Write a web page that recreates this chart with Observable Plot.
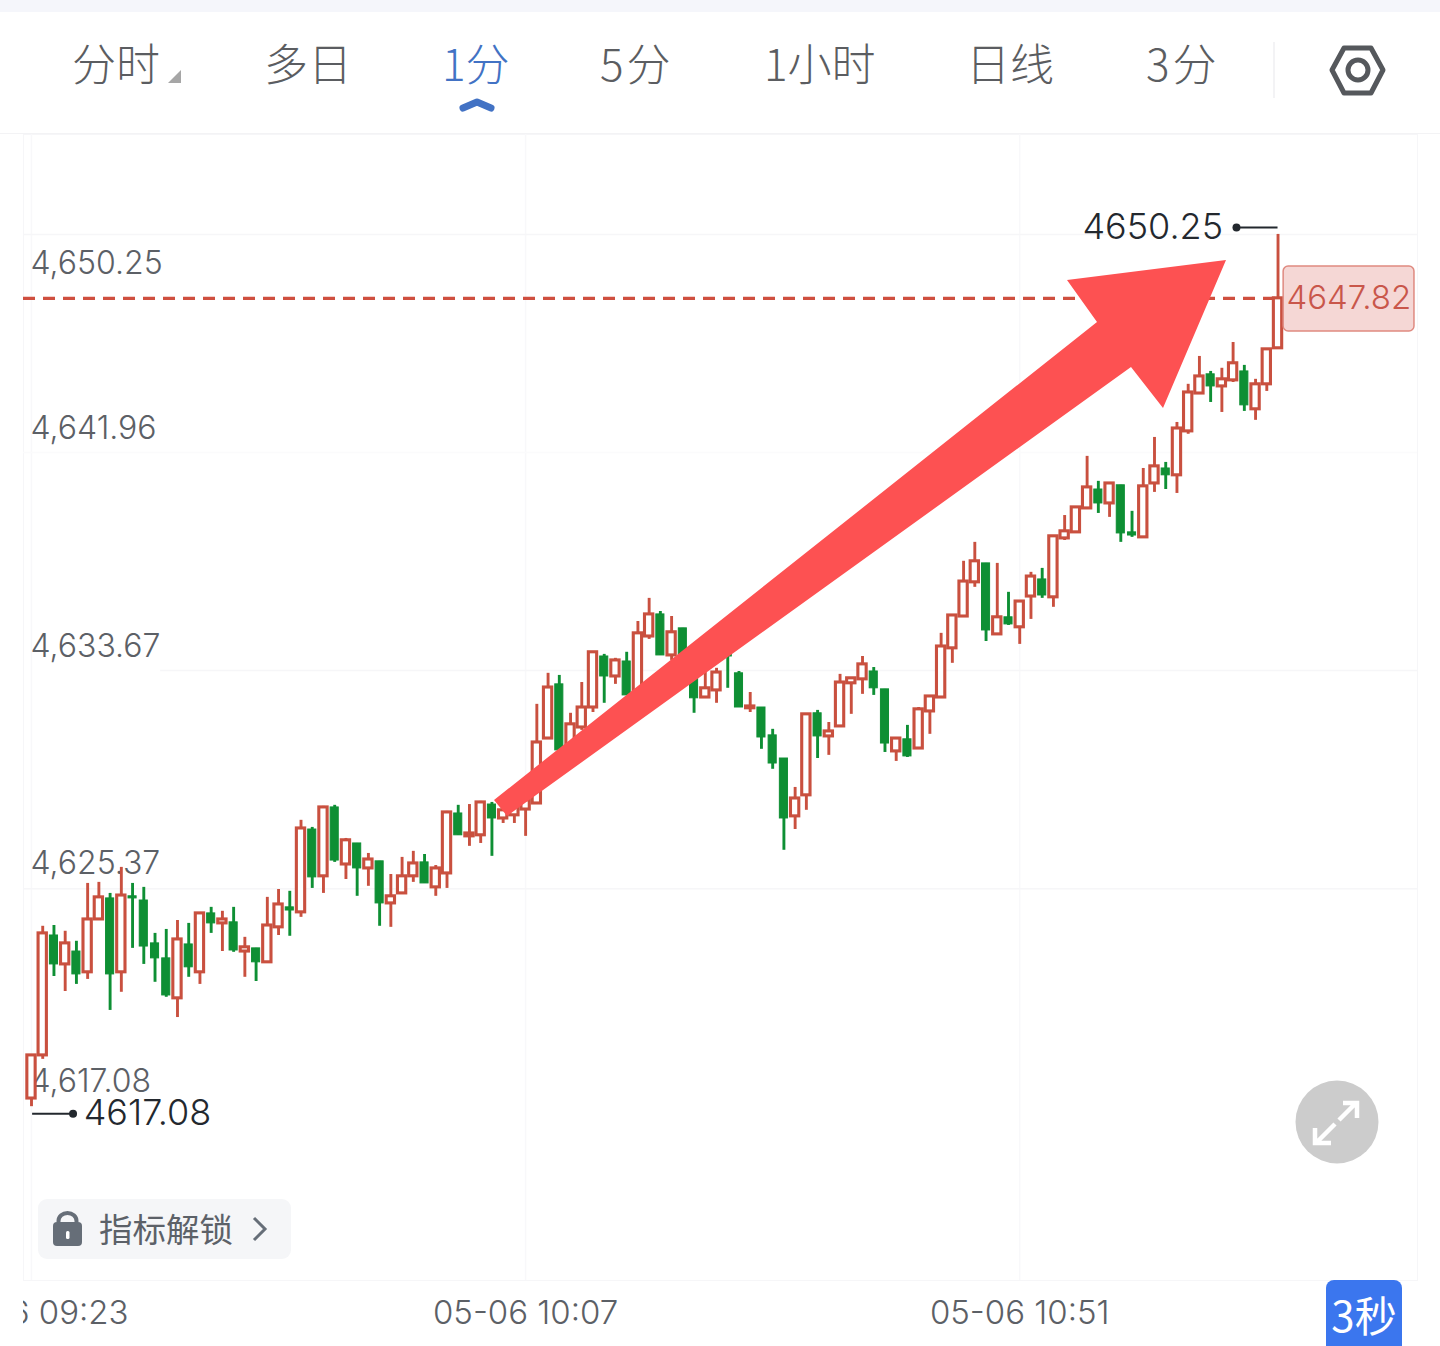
<!DOCTYPE html>
<html lang="zh">
<head>
<meta charset="utf-8">
<script src="https://cdn.jsdelivr.net/npm/d3@7"></script>
<script src="https://cdn.jsdelivr.net/npm/@observablehq/plot@0.6"></script>
<style>
html,body{margin:0;padding:0;background:#fff}
#page{position:relative;width:1440px;height:1346px;overflow:hidden;background:#fff;font-family:"Noto Sans CJK SC","Noto Sans",sans-serif}
#band{position:absolute;left:0;top:0;width:1440px;height:12px;background:#f5f6fb}
#head{position:absolute;left:0;top:12px;width:1440px;height:121px;border-bottom:1px solid #f3f3f5;box-sizing:content-box}
.tab{position:absolute;top:19px;font-size:44px;line-height:62px;color:#5b5d61;font-weight:300;white-space:nowrap}
.tab.on{color:#4272c4}
#chart{position:absolute;left:0;top:134px}
#mask{position:absolute;left:0;top:1281px;width:23px;height:65px;background:#fff}
#deco{position:absolute;left:0;top:0;pointer-events:none}
#lock{position:absolute;left:38px;top:1199px;width:253px;height:60px;border-radius:9px;background:#f5f6f8}
#lockt{position:absolute;left:61px;top:5px;font-size:33.500px;line-height:48px;color:#5c6168;white-space:nowrap}
#sec{position:absolute;left:1326px;top:1280px;width:76px;height:66px;background:#3b76ee;border-radius:8px 8px 0 0;color:#fff;font-size:42px;line-height:68px;text-align:center;white-space:nowrap}
</style>
</head>
<body>
<div id="page">
  <div id="band"></div>
  <div id="head"></div>
  <div id="chart"></div>
  <div id="mask"></div>
  <div id="lock"><div id="lockt">指标解锁</div></div>
  <div id="sec">3秒</div>
  <svg id="deco" width="1440" height="1346" viewBox="0 0 1440 1346">
    <path d="M168 83 L181 70 L181 83 Z" fill="#a6a6a6"/>
    <path d="M463 108 L477 102 L491 108" fill="none" stroke="#4272c4" stroke-width="7" stroke-linecap="round" stroke-linejoin="round"/>
    <line x1="1274" y1="42" x2="1274" y2="98" stroke="#f3f3f5" stroke-width="2"/>
    <path d="M1344 48 L1371 48 L1383 70 L1371 93 L1344 93 L1332 70 Z" fill="none" stroke="#55585c" stroke-width="5" stroke-linejoin="round"/>
    <circle cx="1358" cy="70" r="10" fill="none" stroke="#55585c" stroke-width="5"/>
    <path d="M53 1226 Q53 1222 57 1222 L78 1222 Q82 1222 82 1226 L82 1242 Q82 1246 78 1246 L57 1246 Q53 1246 53 1242 Z" fill="#666e78"/>
    <path d="M58.500 1222 L58.500 1221 A9 8 0 0 1 76.500 1221 L76.500 1222" fill="none" stroke="#666e78" stroke-width="4"/>
    <rect x="66" y="1231" width="3.500" height="8" rx="1.500" fill="#fff"/>
    <path d="M254 1218 L265 1229 L254 1240" fill="none" stroke="#666e78" stroke-width="3"/>
    <circle cx="1337" cy="1122" r="41.500" fill="#cccccc"/>
    <path d="M1339 1120 L1356 1103 M1343 1103 L1357 1103 L1357 1118 M1335 1124 L1316 1143 M1315 1128 L1315 1143 L1331 1143" fill="none" stroke="#fff" stroke-width="4.500"/>
    <path d="M1226 260 L1067 280 L1097 322 L494 800 L507 816 L1131 367 L1163 408 Z" fill="#fd5152"/>
  </svg>
</div>
<script>
const tabNames = ["分时","多日","1分","5分","1小时","日线","3分"];
const tabLefts = [72,264,442,600,764,966,1146];
const tabSpacing = [0,0,0,3,0,0,3];
const activeTab = "1分";

const opens = [4617.39,4619.03,4623.59,4622.49,4622.98,4622.19,4624.20,4625.00,4622.19,4625.08,4624.92,4623.29,4622.72,4621.20,4623.25,4622.19,4624.43,4624.05,4624.09,4622.98,4623.10,4622.57,4623.90,4624.66,4624.47,4627.62,4625.84,4628.46,4626.29,4627.09,4626.14,4626.41,4624.81,4625.19,4625.84,4626.37,4625.42,4625.95,4628.23,4627.36,4627.40,4628.57,4628.04,4628.16,4628.38,4628.61,4631.08,4633.14,4630.82,4631.50,4632.26,4634.20,4633.44,4634.01,4632.83,4634.96,4635.80,4634.24,4635.27,4633.86,4632.64,4632.91,4634.51,4633.56,4632.23,4632.26,4631.20,4630.32,4628.12,4628.92,4632.04,4631.16,4631.54,4633.18,4633.33,4633.63,4632.95,4630.59,4631.05,4630.70,4632.11,4632.64,4634.51,4635.72,4637.02,4637.74,4635.04,4635.69,4635.31,4636.48,4637.13,4636.45,4638.69,4638.92,4639.83,4640.55,4640.02,4640.71,4638.92,4638.73,4640.78,4641.35,4641.09,4642.76,4644.20,4644.93,4644.47,4644.70,4645.04,4643.60,4644.55,4645.92];
const highs = [4619.03,4623.94,4623.97,4623.75,4623.37,4625.57,4625.61,4625.19,4626.18,4625.57,4625.42,4623.67,4623.82,4624.16,4624.05,4624.43,4624.66,4624.51,4624.66,4623.52,4623.10,4625.04,4625.34,4625.27,4627.97,4627.70,4628.50,4628.54,4627.28,4627.09,4626.71,4626.41,4625.91,4626.56,4626.79,4626.67,4626.25,4628.31,4628.54,4628.57,4628.69,4628.65,4628.73,4628.60,4628.80,4632.38,4633.56,4633.48,4632.04,4633.21,4634.36,4634.28,4634.13,4634.36,4635.53,4636.41,4635.91,4635.72,4635.27,4634.05,4633.59,4633.75,4634.81,4633.63,4632.83,4632.26,4631.43,4630.32,4629.22,4632.00,4632.15,4631.69,4633.52,4633.37,4634.20,4633.78,4632.95,4631.12,4631.58,4632.26,4632.68,4635.08,4635.76,4637.82,4638.54,4637.74,4637.74,4636.64,4636.29,4637.40,4637.55,4638.80,4639.56,4639.87,4641.81,4640.86,4640.78,4640.71,4639.72,4641.35,4642.53,4641.58,4643.10,4644.55,4645.61,4645.04,4645.16,4646.14,4645.27,4644.74,4645.88,4650.25];
const lows = [4617.08,4618.88,4622.03,4621.46,4621.73,4621.92,4624.20,4620.74,4621.43,4623.10,4622.49,4621.81,4621.24,4620.47,4622.00,4621.73,4623.67,4622.98,4622.95,4622.00,4621.84,4622.57,4623.59,4623.56,4624.28,4625.38,4625.19,4626.37,4625.72,4625.08,4625.46,4623.94,4623.90,4625.19,4625.61,4625.57,4625.08,4625.38,4627.40,4626.98,4627.09,4626.60,4627.85,4627.85,4627.36,4628.61,4631.08,4630.55,4630.70,4631.39,4632.07,4632.42,4633.14,4632.72,4632.83,4634.85,4634.24,4634.05,4633.86,4632.04,4632.64,4632.42,4632.99,4632.26,4632.07,4630.67,4629.91,4626.83,4627.62,4628.35,4630.32,4630.44,4631.54,4632.00,4632.76,4632.72,4630.55,4630.21,4630.36,4630.67,4631.24,4632.61,4633.94,4635.72,4636.83,4634.77,4635.04,4635.38,4634.66,4635.61,4636.41,4636.07,4638.61,4638.92,4639.83,4639.64,4639.49,4638.54,4638.73,4638.73,4640.44,4640.55,4640.40,4642.65,4644.20,4643.86,4643.48,4644.62,4643.52,4643.18,4644.28,4645.92];
const closes = [4619.03,4623.67,4622.49,4623.29,4622.11,4624.20,4625.04,4622.11,4625.11,4625.00,4623.17,4622.72,4621.31,4623.44,4622.38,4624.43,4624.05,4624.20,4623.02,4623.14,4622.57,4623.97,4624.77,4624.54,4627.66,4625.80,4628.46,4626.44,4627.21,4626.14,4626.48,4624.81,4625.08,4625.84,4626.33,4625.57,4626.14,4628.27,4627.40,4627.47,4628.65,4628.04,4628.35,4628.50,4628.73,4630.93,4633.02,4630.63,4631.62,4632.26,4634.36,4633.44,4634.05,4632.72,4635.08,4635.80,4634.24,4635.12,4634.24,4632.61,4632.99,4633.59,4634.20,4632.26,4632.30,4631.12,4630.13,4628.04,4628.80,4632.00,4631.16,4631.35,4633.21,4633.37,4633.90,4632.99,4630.89,4631.08,4630.40,4632.19,4632.68,4634.58,4635.76,4637.05,4637.82,4635.19,4635.69,4635.42,4636.29,4637.24,4636.52,4638.77,4638.96,4639.87,4640.63,4640.02,4640.78,4638.88,4638.80,4640.67,4641.43,4641.09,4642.87,4644.24,4644.85,4644.47,4644.74,4645.35,4643.75,4644.55,4645.88,4647.82];

const gridPrices = [4650.25,4641.96,4633.67,4625.37,4617.08];
const gridLabels = ["4,650.25","4,641.96","4,633.67","4,625.37","4,617.08"];
const timeTicks = [0,44,88];
const timeLabels = ["05-06 09:23","05-06 10:07","05-06 10:51"];
const lastPrice = 4647.82, maxPrice = 4650.25, minPrice = 4617.08;

const candles = opens.map((o,i)=>({i,o,h:highs[i],l:lows[i],c:closes[i],up:closes[i]>=o,
  top:Math.max(o,closes[i]),bot:Math.min(o,closes[i])}));
const upC = "#c9503f", downC = "#0e8f34", greyT = "#5c6066", darkT = "#23282e", gridC = "#f6f6f8";
const labelShift = [29,-24,-24,-25,-25];
const numFont = "Inter, Roboto, sans-serif";

const head = document.getElementById("head");
tabNames.forEach((n,k)=>{
  const d = document.createElement("div");
  d.className = "tab" + (n===activeTab?" on":"");
  d.style.left = tabLefts[k]+"px";
  d.style.letterSpacing = tabSpacing[k]+"px";
  d.textContent = n;
  head.appendChild(d);
});

const plot = Plot.plot({
  width:1440, height:1212,
  marginLeft:23, marginRight:23, marginTop:0, marginBottom:66,
  style:{fontFamily:numFont,background:"#fff"},
  x:{type:"linear",domain:[-0.712,123.42],axis:null},
  y:{type:"linear",domain:[4610.47,4654.05],axis:null},
  marks:[
    Plot.frame({stroke:gridC}),
    Plot.ruleX(timeTicks,{stroke:"#f8f8fa",strokeWidth:1.500}),
    Plot.ruleY([gridPrices[0],gridPrices[3]],{stroke:gridC,strokeWidth:1.500}),
    Plot.ruleY([gridPrices[1]],{stroke:"#fbfbfc",strokeWidth:1.500}),
    Plot.ruleY([gridPrices[2]],{x1:11.5,x2:123.42,stroke:gridC,strokeWidth:1.500}),
    ...gridPrices.map((p,k)=>Plot.text([gridLabels[k]],{
      frameAnchor:"left",dx:7,y:()=>p,dy:labelShift[k],textAnchor:"start",
      fontSize:32,fill:greyT,fontWeight:300,letterSpacing:-1.300})),
    Plot.ruleY([lastPrice],{x1:-0.712,x2:111,stroke:"#cf4f3f",strokeWidth:3.400,strokeDasharray:"12,8"}),
    Plot.ruleX(candles,{x:"i",y1:"l",y2:"h",stroke:d=>d.up?upC:downC,strokeWidth:2.900}),
    Plot.rect(candles.filter(d=>d.up),{x1:d=>d.i-0.37,x2:d=>d.i+0.37,y1:"bot",y2:"top",fill:"#fff",stroke:upC,strokeWidth:3.100}),
    Plot.rect(candles.filter(d=>!d.up),{x1:d=>d.i-0.36,x2:d=>d.i+0.36,y1:"bot",y2:"top",fill:downC,stroke:downC,strokeWidth:1}),
    Plot.ruleY([maxPrice],{x1:107.3,x2:111,dy:-7,stroke:darkT,strokeWidth:2}),
    Plot.dot([maxPrice],{x:()=>107.3,y:d=>d,dy:-7,r:4,fill:darkT}),
    Plot.text(["4650.25"],{x:()=>106.1,y:()=>maxPrice,dy:-7,textAnchor:"end",fontSize:36,fill:darkT,fontWeight:300,letterSpacing:-1}),
    Plot.ruleY([minPrice],{x1:0.1,x2:3.7,dy:7,stroke:darkT,strokeWidth:2}),
    Plot.dot([minPrice],{x:()=>3.7,y:d=>d,dy:7,r:4,fill:darkT}),
    Plot.text(["4617.08"],{x:()=>4.65,y:()=>minPrice,dy:7,textAnchor:"start",fontSize:36,fill:darkT,fontWeight:300,letterSpacing:-1.800}),
    Plot.rect([lastPrice],{x1:()=>111.5,x2:()=>123.15,y1:()=>4646.56,y2:()=>4649.03,fill:"#f5d7d5",stroke:"#df8a80",strokeWidth:1.500,rx:5}),
    Plot.text(["4647.82"],{x:()=>117.3,y:()=>lastPrice,textAnchor:"middle",fontSize:33,fill:"#c9564a",fontWeight:300,letterSpacing:-2}),
    Plot.text(timeLabels,{x:(d,k)=>timeTicks[k],frameAnchor:"bottom",dy:43,textAnchor:"middle",fontSize:33,fill:greyT,fontWeight:300,letterSpacing:-1.200})
  ]
});
document.getElementById("chart").appendChild(plot);
</script>
</body>
</html>
